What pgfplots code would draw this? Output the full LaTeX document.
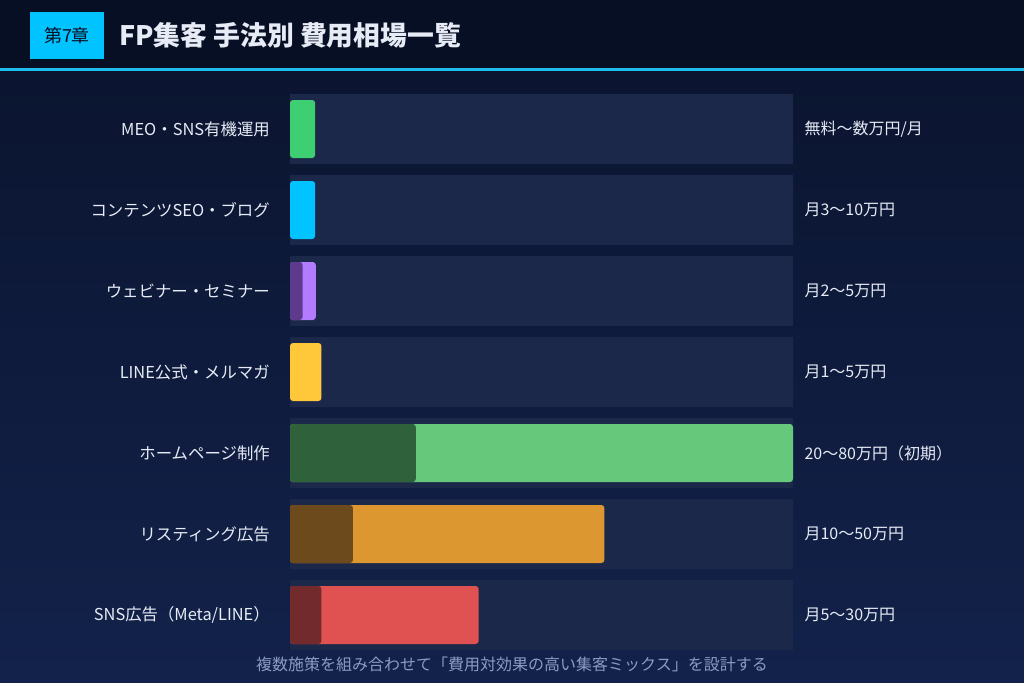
\documentclass[border=0pt]{standalone}
\usepackage{fontspec}
\setmainfont{Noto Sans CJK JP}
\usepackage{pgfplots}
\pgfplotsset{compat=1.18}
\definecolor{hdr}{HTML}{070F24}
\definecolor{bgtop}{HTML}{0B1530}
\definecolor{bgbot}{HTML}{13224B}
\definecolor{cyanline}{HTML}{1EBDF0}
\definecolor{tagc}{HTML}{00C3FF}
\definecolor{track}{HTML}{1B2849}
\definecolor{txt}{HTML}{E6EBF5}
\definecolor{foot}{HTML}{8A9BC4}
\definecolor{cMEO}{HTML}{3ECF72}
\definecolor{cSEO}{HTML}{00C3FF}
\definecolor{cWebL}{HTML}{B37BFF}
\definecolor{cWebD}{HTML}{5E3A8C}
\definecolor{cLINE}{HTML}{FFC73A}
\definecolor{cHPL}{HTML}{66C87A}
\definecolor{cHPD}{HTML}{2F623A}
\definecolor{cLSL}{HTML}{DC9731}
\definecolor{cLSD}{HTML}{6D4A1C}
\definecolor{cSNL}{HTML}{E05252}
\definecolor{cSND}{HTML}{732A2C}
\begin{document}
\begin{tikzpicture}
\path[use as bounding box] (0,0) rectangle (1024bp,683bp);
\shade[top color=bgtop, bottom color=bgbot] (0,0) rectangle (1024bp,612.3bp);
\fill[hdr] (0,615.3bp) rectangle (1024bp,683bp);
\fill[cyanline] (0,612.3bp) rectangle (1024bp,615.3bp);
\fill[tagc] (30bp,624bp) rectangle (104bp,671bp);
\node[text=hdr, font=\fontsize{18bp}{20bp}\selectfont] at (67bp,647.5bp) {第7章};
\node[anchor=west, text=txt, inner sep=0pt, font=\fontsize{26.8bp}{30bp}\selectfont\bfseries] at (119bp,648bp) {FP集客 手法別 費用相場一覧};
\begin{axis}[
  at={(290bp,27.5bp)}, anchor=south west,
  scale only axis, width=503bp, height=567bp,
  xmin=0, xmax=80, ymin=-0.5, ymax=6.5, y dir=reverse,
  axis line style={draw=none}, tick style={draw=none},
  xtick=\empty, ytick={0,1,2,3,4,5,6},
  yticklabels={MEO・SNS有機運用, コンテンツSEO・ブログ, ウェビナー・セミナー, LINE公式・メルマガ, ホームページ制作, リスティング広告, SNS広告（Meta/LINE）},
  yticklabel style={anchor=east, inner sep=0pt, xshift=-20bp, text=txt, font=\fontsize{16.4bp}{18bp}\selectfont},
  clip=false,
]
% tracks with range labels
\addplot[xbar, bar shift=0pt, bar width=70bp, fill=track, draw=none,
  nodes near coords, point meta=explicit symbolic,
  every node near coord/.style={anchor=west, xshift=8bp, text=txt, font=\fontsize{16bp}{18bp}\selectfont}]
  coordinates {(80,0) [無料〜数万円/月] (80,1) [月3〜10万円] (80,2) [月2〜5万円] (80,3) [月1〜5万円] (80,4) [20〜80万円（初期）] (80,5) [月10〜50万円] (80,6) [月5〜30万円]};
% upper ends
\addplot[xbar, bar shift=0pt, bar width=58bp, fill=cMEO, draw=none, rounded corners=3bp] coordinates {(4,0)};
\addplot[xbar, bar shift=0pt, bar width=58bp, fill=cSEO, draw=none, rounded corners=3bp] coordinates {(4,1)};
\addplot[xbar, bar shift=0pt, bar width=58bp, fill=cWebL, draw=none, rounded corners=3bp] coordinates {(4.1,2)};
\addplot[xbar, bar shift=0pt, bar width=58bp, fill=cLINE, draw=none, rounded corners=3bp] coordinates {(5,3)};
\addplot[xbar, bar shift=0pt, bar width=58bp, fill=cHPL, draw=none, rounded corners=3bp] coordinates {(80,4)};
\addplot[xbar, bar shift=0pt, bar width=58bp, fill=cLSL, draw=none, rounded corners=3bp] coordinates {(50,5)};
\addplot[xbar, bar shift=0pt, bar width=58bp, fill=cSNL, draw=none, rounded corners=3bp] coordinates {(30,6)};
% lower ends
\addplot[xbar, bar shift=0pt, bar width=58bp, fill=cWebD, draw=none, rounded corners=3bp] coordinates {(2,2)};
\addplot[xbar, bar shift=0pt, bar width=58bp, fill=cHPD, draw=none, rounded corners=3bp] coordinates {(20,4)};
\addplot[xbar, bar shift=0pt, bar width=58bp, fill=cLSD, draw=none, rounded corners=3bp] coordinates {(10,5)};
\addplot[xbar, bar shift=0pt, bar width=58bp, fill=cSND, draw=none, rounded corners=3bp] coordinates {(5,6)};
\end{axis}
\node[text=foot, font=\fontsize{16bp}{18bp}\selectfont] at (512bp,18.5bp) {複数施策を組み合わせて「費用対効果の高い集客ミックス」を設計する};
\end{tikzpicture}
\end{document}
